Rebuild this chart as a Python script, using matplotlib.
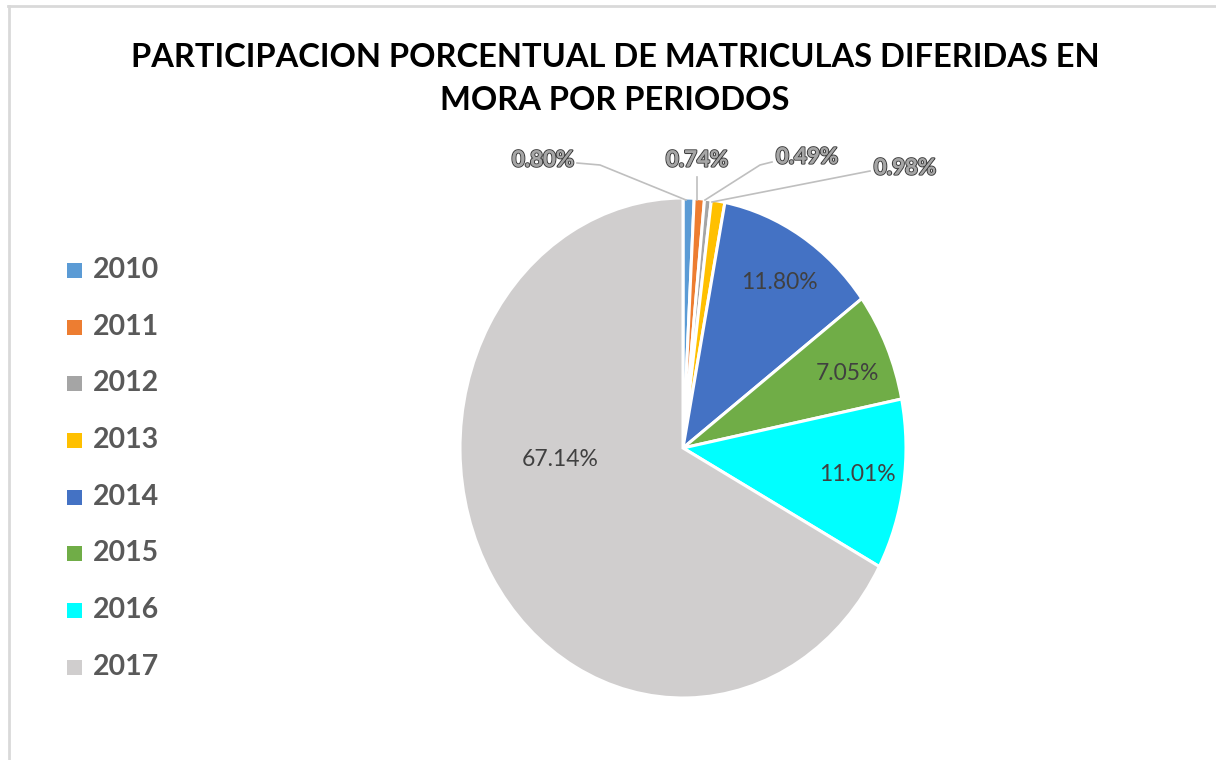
import matplotlib
matplotlib.use("Agg")
import matplotlib.pyplot as plt
import matplotlib.patheffects as pe
from matplotlib.lines import Line2D
from matplotlib import font_manager
import numpy as np

years = ["2010", "2011", "2012", "2013", "2014", "2015", "2016", "2017"]
values = [0.80, 0.74, 0.49, 0.98, 11.80, 7.05, 11.01, 67.14]
labels = ["0.80%", "0.74%", "0.49%", "0.98%", "11.80%", "7.05%", "11.01%", "67.14%"]
colors = ["#5B9BD5", "#ED7D31", "#A5A5A5", "#FFC000", "#4472C4", "#70AD47", "#00FFFF", "#D0CECE"]
title = "PARTICIPACION PORCENTUAL DE MATRICULAS DIFERIDAS EN\nMORA POR PERIODOS"

W, H = 1216, 760
fig = plt.figure(figsize=(W / 100, H / 100), dpi=100)
fig.patch.set_facecolor("white")

# border
fig.add_artist(Line2D([8 / W, 1], [1 - 6 / H, 1 - 6 / H], color="#D9D9D9", lw=2))
fig.add_artist(Line2D([9 / W, 9 / W], [0, 1 - 6 / H], color="#D9D9D9", lw=2))

# pie axes (ellipse)
cx, cy, rx, ry = 683, 448, 223, 250
ax = fig.add_axes([(cx - rx) / W, 1 - (cy + ry) / H, 2 * rx / W, 2 * ry / H])
wedges, _ = ax.pie(values, colors=colors, startangle=90, counterclock=False,
                   wedgeprops=dict(edgecolor="white", linewidth=2.2))
ax.set_aspect("auto")
ax.set_xlim(-1, 1)
ax.set_ylim(-1, 1)
ax.axis("off")

def px2data(x, y):
    return ((x - cx) / rx, (cy - y) / ry)

font = "Lato"
names = {f.name for f in font_manager.fontManager.ttflist}
title_font = "Liberation Sans Narrow" if "Liberation Sans Narrow" in names else "Lato"
title_size = 29 if title_font == "Liberation Sans Narrow" else 23.5

# inside labels
inside_pos = {4: (779, 283), 5: (847, 374), 6: (857, 475), 7: (560, 460)}
for i, (x, y) in inside_pos.items():
    dx, dy = px2data(x, y)
    ax.text(dx, dy, labels[i], ha="center", va="center", fontsize=16.5,
            color="#404040", family=font)

# outside labels with leader lines
outside = {
    0: dict(text=(543, 160), line=[(577, 163), (600, 165), (686, 200)]),
    1: dict(text=(697, 160), line=[(697, 177), (697, 200)]),
    2: dict(text=(807, 157), line=[(772, 162), (760, 165), (705, 200)]),
    3: dict(text=(905, 168), line=[(870, 171), (712, 202)]),
}
for i, d in outside.items():
    pts = [px2data(*p) for p in d["line"]]
    ax.plot([p[0] for p in pts], [p[1] for p in pts], color="#BFBFBF", lw=1.2,
            clip_on=False)
    tx, ty = px2data(*d["text"])
    ax.text(tx, ty, labels[i], ha="center", va="center", fontsize=16,
            color="#A6A6A6", family=font, fontweight="bold", clip_on=False,
            path_effects=[pe.withStroke(linewidth=1.6, foreground="#404040"),
                          pe.Normal()])

# title
fig.text(615 / W, 1 - 79 / H, title, ha="center", va="center", fontsize=title_size,
         fontweight="bold", family=title_font, color="black", linespacing=1.6)

# legend
ys = [270, 327, 383, 440, 497, 553, 610, 667]
for c, yr, y in zip(colors, years, ys):
    fig.patches.append(plt.Rectangle((67 / W, 1 - (y + 8) / H), 15 / W, 15 / H,
                                     transform=fig.transFigure, facecolor=c,
                                     edgecolor="none"))
    fig.text(93 / W, 1 - y / H, yr, ha="left", va="center", fontsize=20.5,
             fontweight="bold", family=font, color="#595959")

fig.savefig("out.png", dpi=100)
